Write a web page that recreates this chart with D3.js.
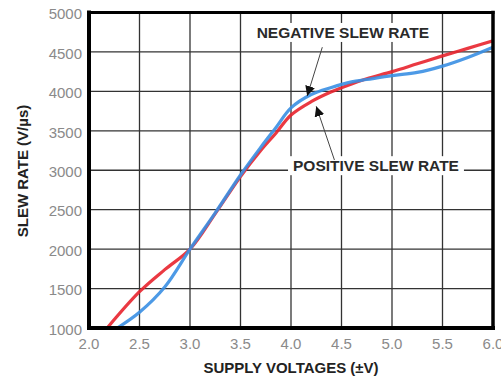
<!DOCTYPE html>
<html>
<head>
<meta charset="utf-8">
<script src="https://cdn.jsdelivr.net/npm/d3@7"></script>
<style>
  html, body { margin: 0; padding: 0; background: #fff; }
  svg { display: block; }
</style>
</head>
<body>
<div id="viz"></div>
<script>
// Slew rate vs supply voltage.
const X_TICKS = [2.0, 2.5, 3.0, 3.5, 4.0, 4.5, 5.0, 5.5, 6.0];
const Y_TICKS = [1000, 1500, 2000, 2500, 3000, 3500, 4000, 4500, 5000];

// Positive slew rate (red)
const POS_VOLTS = [2.18, 2.5, 2.75, 3.0, 3.25, 3.5, 3.7, 3.85, 4.0, 4.2, 4.4, 4.6, 4.75, 5.0, 5.25, 5.5, 5.75, 6.0];
const POS_SLEW = [1000, 1460, 1740, 2000, 2450, 2920, 3250, 3470, 3700, 3870, 3995, 4095, 4160, 4250, 4350, 4450, 4545, 4640];

// Negative slew rate (blue)
const NEG_VOLTS = [2.28, 2.5, 2.75, 3.0, 3.25, 3.5, 3.7, 3.85, 4.0, 4.2, 4.4, 4.6, 4.75, 5.0, 5.25, 5.5, 5.75, 6.0];
const NEG_SLEW = [1000, 1200, 1520, 2000, 2460, 2940, 3290, 3540, 3790, 3960, 4050, 4120, 4150, 4200, 4240, 4320, 4430, 4560];

const W = 501, H = 377;
const svg = d3.select("#viz").append("svg")
  .attr("width", W)
  .attr("height", H);

const x = d3.scaleLinear().domain([2, 6]).range([89, 493]);
const y = d3.scaleLinear().domain([1000, 5000]).range([328, 12.5]);

const FONT = "'Liberation Sans', Arial, sans-serif";

// grid
svg.append("g")
  .selectAll("line")
  .data(X_TICKS)
  .join("line")
  .attr("x1", d => x(d)).attr("x2", d => x(d))
  .attr("y1", y(5000)).attr("y2", y(1000))
  .attr("stroke", "#333").attr("stroke-width", 1.3);

svg.append("g")
  .selectAll("line")
  .data(Y_TICKS)
  .join("line")
  .attr("x1", x(2)).attr("x2", x(6))
  .attr("y1", d => y(d)).attr("y2", d => y(d))
  .attr("stroke", "#333").attr("stroke-width", 1.3);

// label boxes sit on top of the grid
const labels = [
  { text: "NEGATIVE SLEW RATE", v: 3.66, s: 4746 },
  { text: "POSITIVE SLEW RATE", v: 4.02, s: 3057 }
];

const labelG = svg.append("g");
labels.forEach(l => {
  const t = labelG.append("text")
    .attr("x", x(l.v))
    .attr("y", y(l.s))
    .attr("dy", "0.35em")
    .attr("font-family", FONT)
    .attr("font-weight", "bold")
    .attr("font-size", 15.5)
    .attr("fill", "#2a2a2a")
    .text(l.text);
  const bb = t.node().getBBox();
  labelG.insert("rect", "text")
    .attr("x", bb.x - 5).attr("y", bb.y - 1)
    .attr("width", bb.width + 10).attr("height", bb.height + 2)
    .attr("fill", "#fff");
});

// curves
const line = d3.line()
  .x(d => x(d[0]))
  .y(d => y(d[1]))
  .curve(d3.curveCatmullRom.alpha(0.5));

const series = [
  { volts: POS_VOLTS, slew: POS_SLEW, color: "#e8232e" },
  { volts: NEG_VOLTS, slew: NEG_SLEW, color: "#3a8fe3" }
];

svg.append("defs").append("clipPath").attr("id", "plot")
  .append("rect")
  .attr("x", x(2)).attr("y", y(5000))
  .attr("width", x(6) - x(2)).attr("height", y(1000) - y(5000));

svg.append("g")
  .attr("clip-path", "url(#plot)")
  .selectAll("path")
  .data(series)
  .join("path")
  .attr("d", d => line(d3.zip(d.volts, d.slew)))
  .attr("fill", "none")
  .attr("stroke", d => d.color)
  .attr("stroke-width", 3.2)
  .attr("stroke-linejoin", "round")
  .attr("stroke-opacity", 0.9);

// arrows
svg.append("defs").append("marker")
  .attr("id", "head")
  .attr("viewBox", "0 0 10 10")
  .attr("refX", 10).attr("refY", 5)
  .attr("markerWidth", 10).attr("markerHeight", 10)
  .attr("markerUnits", "userSpaceOnUse")
  .attr("orient", "auto")
  .append("path")
  .attr("d", "M0,0 L10,5 L0,10 Z")
  .attr("fill", "#111");

const arrows = [
  { from: [4.31, 4560], to: [4.16, 3940] },
  { from: [4.43, 3130], to: [4.25, 3810] }
];

svg.append("g")
  .selectAll("line")
  .data(arrows)
  .join("line")
  .attr("x1", d => x(d.from[0])).attr("y1", d => y(d.from[1]))
  .attr("x2", d => x(d.to[0])).attr("y2", d => y(d.to[1]))
  .attr("stroke", "#444")
  .attr("stroke-width", 1)
  .attr("marker-end", "url(#head)");

// frame: heavy left/bottom, lighter top/right
const frame = svg.append("g").attr("stroke", "#000").attr("stroke-linecap", "square");
frame.append("line").attr("x1", x(2)).attr("x2", x(6)).attr("y1", y(5000)).attr("y2", y(5000)).attr("stroke-width", 3);
frame.append("line").attr("x1", x(6)).attr("x2", x(6)).attr("y1", y(5000)).attr("y2", y(1000)).attr("stroke-width", 3.5);
frame.append("line").attr("x1", x(2)).attr("x2", x(2)).attr("y1", y(5000)).attr("y2", y(1000)).attr("stroke-width", 4);
frame.append("line").attr("x1", x(2)).attr("x2", x(6)).attr("y1", y(1000)).attr("y2", y(1000)).attr("stroke-width", 4);

// tick labels
svg.append("g")
  .selectAll("text")
  .data(Y_TICKS)
  .join("text")
  .attr("x", 82)
  .attr("y", d => y(d))
  .attr("dy", "0.45em")
  .attr("text-anchor", "end")
  .attr("font-family", FONT)
  .attr("font-size", 15)
  .attr("fill", "#8a8a8a")
  .text(d => d);

svg.append("g")
  .selectAll("text")
  .data(X_TICKS)
  .join("text")
  .attr("x", d => x(d))
  .attr("y", 348.5)
  .attr("text-anchor", "middle")
  .attr("font-family", FONT)
  .attr("font-size", 15)
  .attr("fill", "#8a8a8a")
  .text(d => d.toFixed(1));

// axis titles
svg.append("text")
  .attr("x", 291)
  .attr("y", 372.5)
  .attr("text-anchor", "middle")
  .attr("font-family", FONT)
  .attr("font-weight", "bold")
  .attr("font-size", 15)
  .attr("fill", "#222")
  .text("SUPPLY VOLTAGES (\u00b1V)");

svg.append("text")
  .attr("transform", "translate(27.5,171) rotate(-90)")
  .attr("text-anchor", "middle")
  .attr("font-family", FONT)
  .attr("font-weight", "bold")
  .attr("font-size", 15)
  .attr("fill", "#222")
  .text("SLEW RATE (V/\u00b5s)");
</script>
</body>
</html>
